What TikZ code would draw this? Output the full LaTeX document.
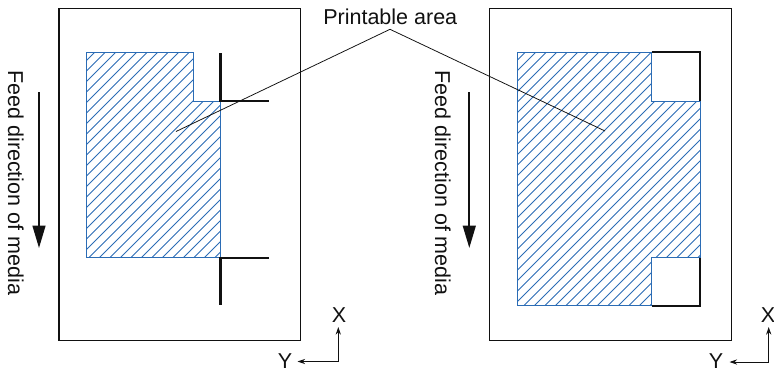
\documentclass[tikz,border=0pt]{standalone}
\usepackage{fontspec}
\setmainfont{Liberation Sans}
\usetikzlibrary{arrows.meta,calc,positioning}
\definecolor{Ink}{HTML}{111111}
\definecolor{Hatch}{HTML}{2B6CB5}
\tikzset{
  sheet/.style={draw=Ink, line width=0.9pt},
  area/.style={draw=Hatch, line width=0.7pt},
  hatchline/.style={draw=Hatch, line width=0.55pt},
  cropmark/.style={draw=Ink, line width=1.5pt},
  leader/.style={draw=Ink, line width=0.55pt},
  feedarrow/.style={draw=Ink, line width=1.4pt, -{Triangle[length=0.56cm, width=0.32cm]}},
  axisarrow/.style={draw=Ink, line width=0.6pt, -{Stealth[length=1.9mm, width=1.3mm]}},
  label/.style={inner sep=0pt, font=\fontsize{15.3}{18}\selectfont, text=Ink}
}
\begin{document}
\begin{tikzpicture}[x=0.025cm, y=-0.025cm]
  \useasboundingbox (0,0) rectangle (774,371);
  % left sheet
  \draw[sheet] (59,8.3) rectangle (300.7,340.7);
  \begin{scope}
    \clip (86,52) -- (193.5,52) -- (193.5,101) -- (220.5,101) -- (220.5,257.7) -- (86,257.7) -- cycle;
    \foreach \c in {-400,-389.5,...,800}
      \draw[hatchline] (\c,400) -- ++(420,-420);
  \end{scope}
  \draw[area] (86,52) -- (193.5,52) -- (193.5,101) -- (220.5,101) -- (220.5,257.7) -- (86,257.7) -- cycle;
  \draw[cropmark] (220.5,53) -- (220.5,101) -- (269,101);
  \draw[cropmark] (269,257.7) -- (220.5,257.7) -- (220.5,305);
  % right sheet
  \draw[sheet] (489.3,8.3) rectangle (731.7,340.7);
  \begin{scope}
    \clip (517,52.3) -- (651.7,52.3) -- (651.7,101) -- (700.3,101) -- (700.3,257.7) -- (651.7,257.7) -- (651.7,305.7) -- (517,305.7) -- cycle;
    \foreach \c in {-400,-389.5,...,900}
      \draw[hatchline] (\c,400) -- ++(420,-420);
  \end{scope}
  \draw[area] (517,52.3) -- (651.7,52.3) -- (651.7,101) -- (700.3,101) -- (700.3,257.7) -- (651.7,257.7) -- (651.7,305.7) -- (517,305.7) -- cycle;
  \draw[cropmark] (651.7,52.3) -- (700.3,52.3) -- (700.3,101);
  \draw[cropmark] (700.3,257.7) -- (700.3,305.7) -- (651.7,305.7);
  % label and leaders
  \node[label, anchor=base west] (title) at (323,24) {Printable area};
  \coordinate (apex) at (390,29.3);
  \coordinate (ptL) at (176,131.5);
  \coordinate (ptR) at (605,131);
  \draw[leader] (ptL) -- (apex) -- (ptR);
  % feed direction
  \node[label, rotate=-90, anchor=base west] (feedL) at (8,70) {Feed direction of media};
  \node[label, rotate=-90, anchor=base west] (feedR) at (435,70.5) {Feed direction of media};
  \coordinate (fLa) at (39,92);
  \coordinate (fLb) at (39,248);
  \coordinate (fRa) at (469.3,92);
  \coordinate (fRb) at (469.3,248);
  \draw[feedarrow] (fLa) -- (fLb);
  \draw[feedarrow] (fRa) -- (fRb);
  % axes
  \node[label, anchor=base] (xL) at (339,322) {X};
  \node[label, anchor=base] (yL) at (285,368.5) {Y};
  \coordinate (oL) at (338.3,361.5);
  \draw[axisarrow] (oL) -- (338.3,327);
  \draw[axisarrow] (oL) -- (297.5,361.5);
  \node[label, anchor=base] (xR) at (768,322) {X};
  \node[label, anchor=base] (yR) at (716,368.5) {Y};
  \coordinate (oR) at (768.7,362);
  \draw[axisarrow] (oR) -- (768.7,327);
  \draw[axisarrow] (oR) -- (729.5,362);
\end{tikzpicture}
\end{document}
